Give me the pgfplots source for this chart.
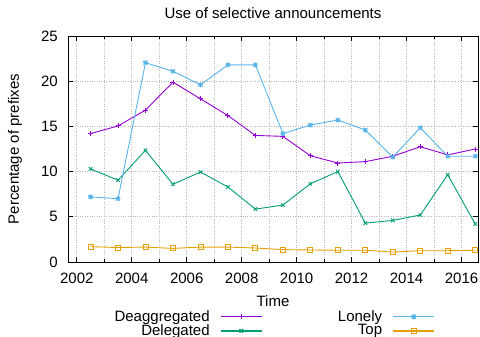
\documentclass[border=0pt]{standalone}
\usepackage{fontspec}
\setmainfont{Liberation Sans}
\usepackage{pgfplots}
\pgfplotsset{compat=1.18}
\definecolor{cpurple}{HTML}{9400D3}
\definecolor{cgreen}{HTML}{009E73}
\definecolor{cblue}{HTML}{56B4E9}
\definecolor{corange}{HTML}{E69F00}
\pgfdeclareplotmark{gpstar}{%
  \pgfpathmoveto{\pgfqpoint{-\pgfplotmarksize}{0pt}}%
  \pgfpathlineto{\pgfqpoint{\pgfplotmarksize}{0pt}}%
  \pgfpathmoveto{\pgfqpoint{0pt}{-\pgfplotmarksize}}%
  \pgfpathlineto{\pgfqpoint{0pt}{\pgfplotmarksize}}%
  \pgfpathmoveto{\pgfqpoint{-0.8\pgfplotmarksize}{-0.8\pgfplotmarksize}}%
  \pgfpathlineto{\pgfqpoint{0.8\pgfplotmarksize}{0.8\pgfplotmarksize}}%
  \pgfpathmoveto{\pgfqpoint{-0.8\pgfplotmarksize}{0.8\pgfplotmarksize}}%
  \pgfpathlineto{\pgfqpoint{0.8\pgfplotmarksize}{-0.8\pgfplotmarksize}}%
  \pgfusepathqstroke}
\begin{document}
\fontsize{15bp}{18bp}\selectfont
\begin{tikzpicture}
\useasboundingbox (-68bp,-75bp) rectangle (412bp,262bp);
\begin{axis}[
  at={(0,0)}, anchor=south west,
  scale only axis, width=410bp, height=226bp,
  xmin=2001.68, xmax=2016.6, ymin=0, ymax=25,
  xtick distance=2, minor x tick num=1, ytick distance=5,
  /pgf/number format/assume math mode=true,
  /pgf/number format/1000 sep={},
  tick pos=both, tick align=inside,
  major tick length=5bp, minor tick length=3bp,
  every tick/.style={black, line width=0.8bp},
  axis line style={line width=0.9bp},
  grid=both,
  major grid style={gray!55, dotted, line width=0.8bp},
  minor grid style={gray!55, dotted, line width=0.8bp},
  xticklabel style={yshift=-6bp},
  yticklabel style={xshift=-5bp},
  title={Use of selective announcements},
  title style={yshift=6bp},
  xlabel={Time},
  xlabel style={at={(axis description cs:0.5,0)}, anchor=center, yshift=-39bp},
  ylabel={Percentage of prefixes},
  ylabel style={at={(axis description cs:0,0.5)}, anchor=center, rotate=0, yshift=53bp},
  mark size=2.5bp,
  every axis plot/.append style={line width=0.9bp},
  legend plot pos=right,
  legend cell align=right,
  transpose legend,
  legend columns=2,
  legend image code/.code={\draw[mark repeat=2,mark phase=2,line width=1.3bp] plot coordinates {(0bp,0bp) (20.5bp,0bp) (41bp,0bp)};},
  legend style={at={(axis description cs:0.5,0)}, anchor=north, yshift=-45.5bp, xshift=1.5bp,
    draw=none, fill=none, row sep=0bp, column sep=10bp,
    nodes={inner sep=0.5bp},
    /tikz/every even column/.append style={column sep=75bp}},
]
\addplot[cpurple, mark=+] coordinates {
(2002.5,14.2)(2003.5,15.05)(2004.5,16.8)(2005.5,19.9)(2006.5,18.05)(2007.5,16.2)(2008.5,14.0)
(2009.5,13.9)(2010.5,11.75)(2011.5,10.95)(2012.5,11.1)(2013.5,11.7)(2014.5,12.75)(2015.5,11.85)(2016.5,12.5)};
\addlegendentry{Deaggregated}
\addplot[cgreen, mark=x] coordinates {
(2002.5,10.3)(2003.5,9.05)(2004.5,12.35)(2005.5,8.6)(2006.5,9.95)(2007.5,8.3)(2008.5,5.85)
(2009.5,6.3)(2010.5,8.65)(2011.5,10.0)(2012.5,4.3)(2013.5,4.6)(2014.5,5.2)(2015.5,9.65)(2016.5,4.2)};
\addlegendentry{Delegated}
\addplot[cblue, mark=gpstar] coordinates {
(2002.5,7.2)(2003.5,7.0)(2004.5,22.05)(2005.5,21.1)(2006.5,19.6)(2007.5,21.8)(2008.5,21.8)
(2009.5,14.2)(2010.5,15.15)(2011.5,15.7)(2012.5,14.6)(2013.5,11.6)(2014.5,14.85)(2015.5,11.7)(2016.5,11.7)};
\addlegendentry{Lonely}
\addplot[corange, mark=square] coordinates {
(2002.5,1.7)(2003.5,1.6)(2004.5,1.65)(2005.5,1.5)(2006.5,1.65)(2007.5,1.65)(2008.5,1.55)
(2009.5,1.37)(2010.5,1.33)(2011.5,1.3)(2012.5,1.3)(2013.5,1.1)(2014.5,1.25)(2015.5,1.25)(2016.5,1.3)};
\addlegendentry{Top}
\end{axis}
\end{tikzpicture}
\end{document}
